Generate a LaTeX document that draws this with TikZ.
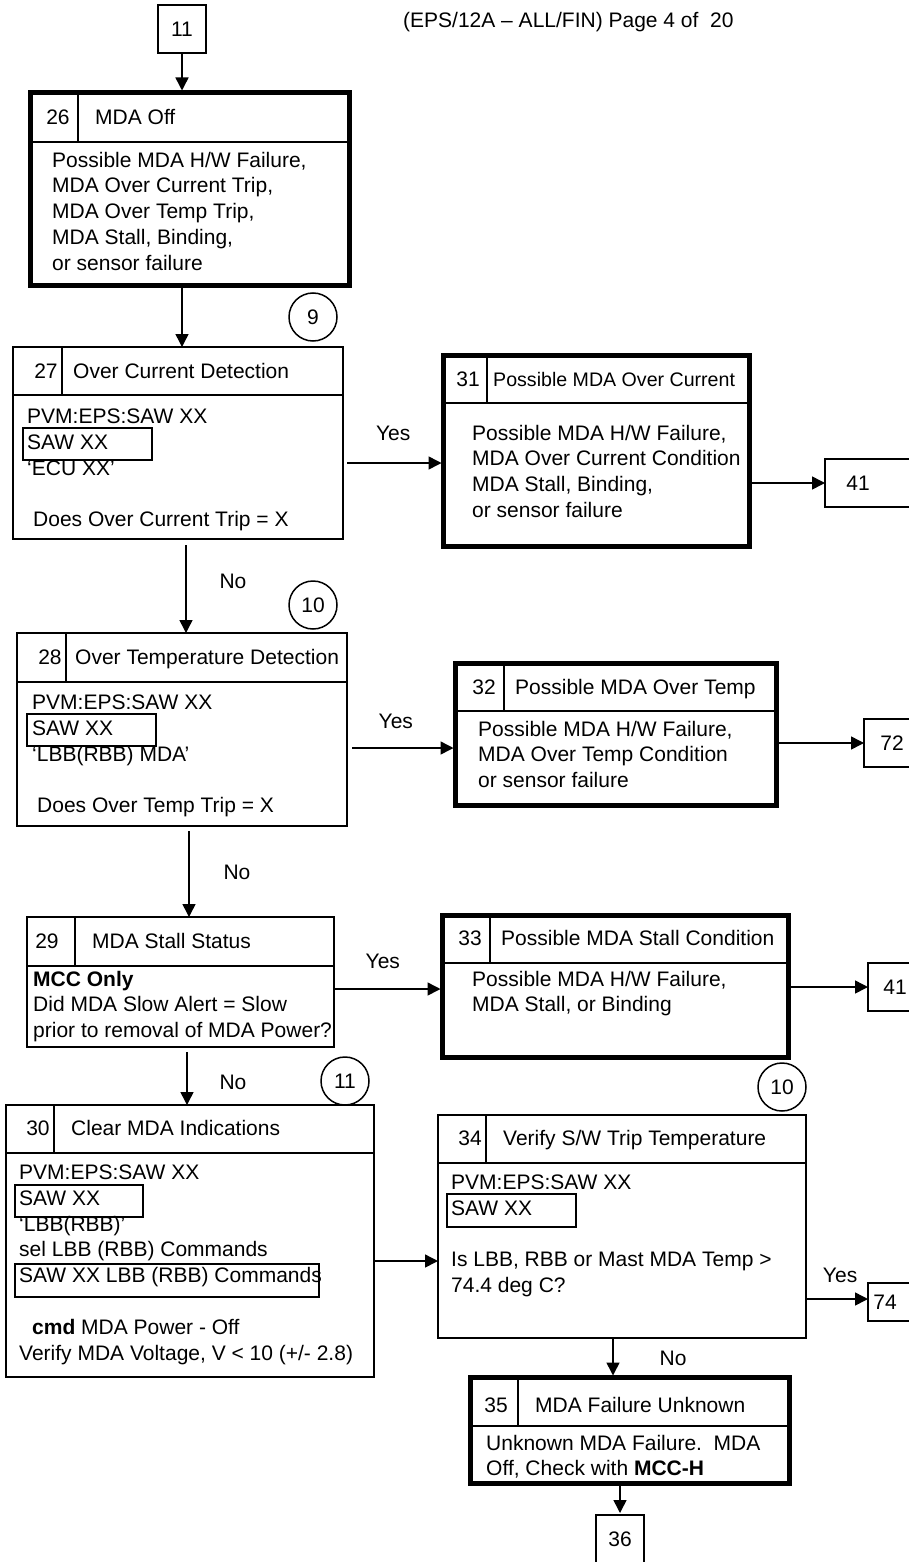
\documentclass[tikz,border=0pt]{standalone}
\usepackage{fontspec}
\setmainfont{Liberation Sans}
\usetikzlibrary{arrows.meta}
\newcommand{\chartfont}{\fontsize{21}{25.8}\selectfont}
\tikzset{
  stepbox/.style={draw, line width=1.7pt, anchor=north west, inner sep=0pt, outer sep=0pt},
  endbox/.style={draw, line width=5pt, anchor=north west, inner sep=0pt, outer sep=0pt},
  refbox/.style={draw, line width=1.7pt, anchor=west, inner sep=0pt, outer sep=0pt, font=\chartfont},
  sawbox/.style={line width=1.5pt},
  divline/.style={line width=1.7pt},
  conn/.style={draw, circle, line width=1.5pt, minimum size=48pt, inner sep=0pt, outer sep=0pt, font=\chartfont},
  lbl/.style={font=\chartfont, inner sep=0pt, text height=15.5pt, text depth=0.5pt},
  body/.style={font=\chartfont, inner sep=0pt, anchor=north west, align=left, execute at begin node=\strut},
  flow/.style={line width=1.5pt, -{Triangle[length=13pt,width=13pt]}},
}

\begin{document}
\begin{tikzpicture}[x=1pt,y=-1pt]
  \useasboundingbox (0,0) rectangle (909,1562);
  \clip (0,0) rectangle (909,1562);
  \node[lbl, anchor=west] (head) at (403,20) {(EPS/12A – ALL/FIN) Page 4 of~~20};

  % page connectors
  \node[refbox, anchor=center, minimum width=48pt, minimum height=48pt] (n11) at (182,29) {11};
  \node[refbox, anchor=north, minimum width=48pt, minimum height=48pt] (n36) at (620,1515) {36};
  \node[refbox, minimum width=100pt, minimum height=48pt] (r41a) at (825,483) {};
  \node[lbl] (t41a) at (858,483) {41};
  \node[refbox, minimum width=100pt, minimum height=48pt] (r72) at (864,743) {};
  \node[lbl] (t72) at (892,743) {72};
  \node[refbox, minimum width=100pt, minimum height=48pt] (r41b) at (868,987) {};
  \node[lbl] (t41b) at (895,987) {41};
  \node[refbox, minimum width=100pt, minimum height=38pt] (r74) at (868,1302) {};
  \node[lbl] (t74) at (885,1302) {74};

  \node[conn] (c9) at (313,317) {9};
  \node[conn] (c10a) at (313,605) {10};
  \node[conn] (c11) at (345,1081) {11};
  \node[conn] (c10b) at (782,1087) {10};

  % 26
  \node[endbox, minimum width=319pt, minimum height=193pt] (b26) at (30.5,92.5) {};
  \draw[divline] (b26.west |- 0,142) -- (b26.east |- 0,142);
  \draw[divline] (78,92.5) -- (78,142);
  \node[lbl] (n26) at (58,117) {26};
  \node[lbl, anchor=west] (h26) at (95,117) {MDA Off};
  \node[body] (x26) at (52,151.6) {Possible MDA H/W Failure,\\MDA Over Current Trip,\\MDA Over Temp Trip,\\MDA Stall, Binding,\\or sensor failure};

  % 27
  \node[stepbox, minimum width=330pt, minimum height=192pt] (b27) at (13,347) {};
  \draw[divline] (b27.west |- 0,395) -- (b27.east |- 0,395);
  \draw[divline] (62,347) -- (62,395);
  \node[lbl] (n27) at (46,371) {27};
  \node[lbl, anchor=west] (h27) at (73,371) {Over Current Detection};
  \node[body] (x27) at (27,408.6) {PVM:EPS:SAW XX\\SAW XX\\‘ECU XX’\\ \\ \hspace*{6pt}Does Over Current Trip = X};
  \draw[sawbox] (23,428) rectangle (152,460);

  % 28
  \node[stepbox, minimum width=330pt, minimum height=193pt] (b28) at (17,633) {};
  \draw[divline] (b28.west |- 0,682) -- (b28.east |- 0,682);
  \draw[divline] (66,633) -- (66,682);
  \node[lbl] (n28) at (50,657) {28};
  \node[lbl, anchor=west] (h28) at (75,657) {Over Temperature Detection};
  \node[body] (x28) at (32,694.6) {PVM:EPS:SAW XX\\SAW XX\\‘LBB(RBB) MDA’\\ \\ \hspace*{5pt}Does Over Temp Trip = X};
  \draw[sawbox] (27,714) rectangle (156,746);

  % 29
  \node[stepbox, minimum width=307pt, minimum height=130pt] (b29) at (27,917) {};
  \draw[divline] (b29.west |- 0,966) -- (b29.east |- 0,966);
  \draw[divline] (75,917) -- (75,966);
  \node[lbl] (n29) at (47,941) {29};
  \node[lbl, anchor=west] (h29) at (92,941) {MDA Stall Status};
  \node[body] (x29) at (33,970.6) {\textbf{MCC Only}\\Did MDA Slow Alert = Slow\\prior to removal of MDA Power?};

  % 30
  \node[stepbox, minimum width=368pt, minimum height=272pt] (b30) at (6,1105) {};
  \draw[divline] (b30.west |- 0,1153) -- (b30.east |- 0,1153);
  \draw[divline] (54,1105) -- (54,1153);
  \node[lbl] (n30) at (38,1128) {30};
  \node[lbl, anchor=west] (h30) at (71,1128) {Clear MDA Indications};
  \node[body] (x30) at (19,1164.6) {PVM:EPS:SAW XX\\SAW XX\\‘LBB(RBB)’\\sel LBB (RBB) Commands\\SAW XX LBB (RBB) Commands\\ \\ \hspace*{13pt}\textbf{cmd} MDA Power - Off\\Verify MDA Voltage, V < 10 (+/- 2.8)};
  \draw[sawbox] (15,1185) rectangle (143,1217);
  \draw[sawbox] (15,1264) rectangle (319,1297);

  % 31
  \node[endbox, minimum width=306pt, minimum height=191pt] (b31) at (443.5,355.5) {};
  \draw[divline] (b31.west |- 0,403) -- (b31.east |- 0,403);
  \draw[divline] (487,355.5) -- (487,403);
  \node[lbl] (n31) at (468,379) {31};
  \node[lbl, anchor=west, font=\fontsize{19.6}{24}\selectfont] (h31) at (493,379) {Possible MDA Over Current};
  \node[body] (x31) at (472,424.6) {Possible MDA H/W Failure,\\MDA Over Current Condition\\MDA Stall, Binding,\\or sensor failure};

  % 32
  \node[endbox, minimum width=321pt, minimum height=142pt] (b32) at (455.5,663.5) {};
  \draw[divline] (b32.west |- 0,711) -- (b32.east |- 0,711);
  \draw[divline] (504,663.5) -- (504,711);
  \node[lbl] (n32) at (484,687) {32};
  \node[lbl, anchor=west] (h32) at (515,687) {Possible MDA Over Temp};
  \node[body] (x32) at (478,720.6) {Possible MDA H/W Failure,\\MDA Over Temp Condition\\or sensor failure};

  % 33
  \node[endbox, minimum width=346pt, minimum height=142pt] (b33) at (442.5,915.5) {};
  \draw[divline] (b33.west |- 0,963) -- (b33.east |- 0,963);
  \draw[divline] (490,915.5) -- (490,963);
  \node[lbl] (n33) at (470,938) {33};
  \node[lbl, anchor=west] (h33) at (501,938) {Possible MDA Stall Condition};
  \node[body] (x33) at (472,970.6) {Possible MDA H/W Failure,\\MDA Stall, or Binding};

  % 34
  \node[stepbox, minimum width=368pt, minimum height=223pt] (b34) at (438,1115) {};
  \draw[divline] (b34.west |- 0,1163) -- (b34.east |- 0,1163);
  \draw[divline] (486,1115) -- (486,1163);
  \node[lbl] (n34) at (470,1138) {34};
  \node[lbl, anchor=west] (h34) at (503,1138) {Verify S/W Trip Temperature};
  \node[body] (x34) at (451,1174.6) {PVM:EPS:SAW XX\\SAW XX\\ \\Is LBB, RBB or Mast MDA Temp >\\74.4 deg C?};
  \draw[sawbox] (447,1194) rectangle (576,1227);

  % 35
  \node[endbox, minimum width=319pt, minimum height=106pt] (b35) at (470.5,1377.5) {};
  \draw[divline] (b35.west |- 0,1426) -- (b35.east |- 0,1426);
  \draw[divline] (518,1377.5) -- (518,1426);
  \node[lbl] (n35) at (496,1405) {35};
  \node[lbl, anchor=west] (h35) at (535,1405) {MDA Failure Unknown};
  \node[body] (x35) at (486,1434.6) {Unknown MDA Failure.~~MDA\\Off, Check with \textbf{MCC-H}};

  % connectors
  \draw[flow, shorten >=2pt] (n11) -- (n11 |- b26.north);
  \draw[flow] (n11 |- b26.south) -- (n11 |- b27.north);
  \draw[flow, shorten <=6pt] (b27.south -| 186,0) -- (b28.north -| 186,0) node[lbl, pos=.45, xshift=47pt] (no27) {No};
  \draw[flow, shorten <=5pt] (b28.south -| 189,0) -- (b29.north -| 189,0) node[lbl, midway, xshift=48pt] (no28) {No};
  \draw[flow, shorten <=5pt] (b29.south -| 187,0) -- (b30.north -| 187,0) node[lbl, pos=.6, xshift=46pt] (no29) {No};
  \draw[flow, shorten <=4pt, shorten >=2pt] (b27.east |- 0,463) -- (b31.west |- 0,463) node[lbl, midway, yshift=30pt] (yes27) {Yes};
  \draw[flow, shorten <=5pt, shorten >=2pt] (b28.east |- 0,748) -- (b32.west |- 0,748) node[lbl, pos=.45, yshift=27pt] (yes28) {Yes};
  \draw[flow, shorten >=2pt] (b29.east |- 0,989) -- (b33.west |- 0,989) node[lbl, pos=.45, yshift=28pt] (yes29) {Yes};
  \draw[flow] (b30.east |- 0,1261) -- (b34.west |- 0,1261);
  \draw[flow] (b31.east |- r41a.west) -- (r41a.west);
  \draw[flow] (b32.east |- r72.west) -- (r72.west);
  \draw[flow] (b33.east |- r41b.west) -- (r41b.west);
  \draw[flow] (b34.east |- 0,1299) -- (r74.west |- 0,1299) node[lbl, pos=.55, yshift=24pt] (yes34) {Yes};
  \draw[flow, shorten >=2pt] (b34.south -| 613,0) -- (b35.north -| 613,0) node[lbl, midway, xshift=60pt] (no34) {No};
  \draw[flow, shorten >=2pt] (b35.south -| n36) -- (n36.north);
\end{tikzpicture}
\end{document}
